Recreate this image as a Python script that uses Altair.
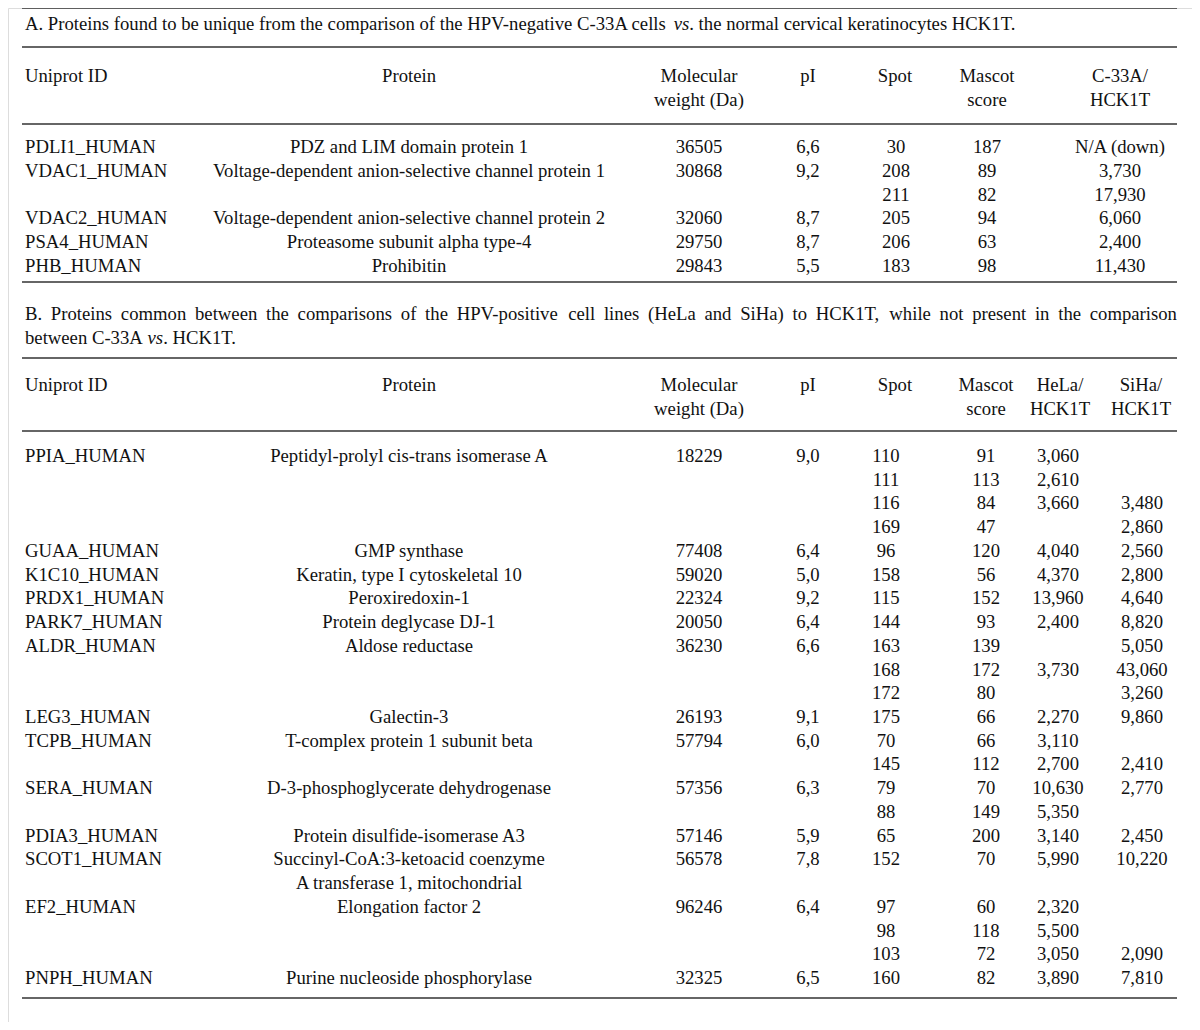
import altair as alt
import pandas as pd

# ---------------- data ----------------
caption_a = [["A. Proteins found to be unique from the comparison of the HPV-negative C-33A cells ", "vs", ". the normal cervical keratinocytes HCK1T."]]
caption_b_line1 = "B. Proteins common between the comparisons of the HPV-positive cell lines (HeLa and SiHa) to HCK1T, while not present in the comparison"
caption_b_line2 = ["between C-33A ", "vs", ". HCK1T."]

header_a = [["Uniprot ID"], ["Protein"], ["Molecular", "weight (Da)"], ["pI"], ["Spot"], ["Mascot", "score"], ["C-33A/", "HCK1T"]]
header_b = [["Uniprot ID"], ["Protein"], ["Molecular", "weight (Da)"], ["pI"], ["Spot"], ["Mascot", "score"], ["HeLa/", "HCK1T"], ["SiHa/", "HCK1T"]]

ids_a = ["PDLI1_HUMAN", "VDAC1_HUMAN", "", "VDAC2_HUMAN", "PSA4_HUMAN", "PHB_HUMAN"]
prot_a = ["PDZ and LIM domain protein 1", "Voltage-dependent anion-selective channel protein 1", "",
          "Voltage-dependent anion-selective channel protein 2", "Proteasome subunit alpha type-4", "Prohibitin"]
mw_a = ["36505", "30868", "", "32060", "29750", "29843"]
pi_a = ["6,6", "9,2", "", "8,7", "8,7", "5,5"]
spot_a = ["30", "208", "211", "205", "206", "183"]
mascot_a = ["187", "89", "82", "94", "63", "98"]
ratio_a = ["N/A (down)", "3,730", "17,930", "6,060", "2,400", "11,430"]

ids_b = ["PPIA_HUMAN", "", "", "", "GUAA_HUMAN", "K1C10_HUMAN", "PRDX1_HUMAN", "PARK7_HUMAN", "ALDR_HUMAN", "", "",
         "LEG3_HUMAN", "TCPB_HUMAN", "", "SERA_HUMAN", "", "PDIA3_HUMAN", "SCOT1_HUMAN", "", "EF2_HUMAN", "", "", "PNPH_HUMAN"]
prot_b = ["Peptidyl-prolyl cis-trans isomerase A", "", "", "", "GMP synthase", "Keratin, type I cytoskeletal 10",
          "Peroxiredoxin-1", "Protein deglycase DJ-1", "Aldose reductase", "", "", "Galectin-3",
          "T-complex protein 1 subunit beta", "", "D-3-phosphoglycerate dehydrogenase", "",
          "Protein disulfide-isomerase A3", "Succinyl-CoA:3-ketoacid coenzyme", "A transferase 1, mitochondrial",
          "Elongation factor 2", "", "", "Purine nucleoside phosphorylase"]
mw_b = ["18229", "", "", "", "77408", "59020", "22324", "20050", "36230", "", "", "26193", "57794", "", "57356", "",
        "57146", "56578", "", "96246", "", "", "32325"]
pi_b = ["9,0", "", "", "", "6,4", "5,0", "9,2", "6,4", "6,6", "", "", "9,1", "6,0", "", "6,3", "",
        "5,9", "7,8", "", "6,4", "", "", "6,5"]
spot_b = ["110", "111", "116", "169", "96", "158", "115", "144", "163", "168", "172", "175", "70", "145", "79", "88",
          "65", "152", "", "97", "98", "103", "160"]
mascot_b = ["91", "113", "84", "47", "120", "56", "152", "93", "139", "172", "80", "66", "66", "112", "70", "149",
            "200", "70", "", "60", "118", "72", "82"]
hela_b = ["3,060", "2,610", "3,660", "", "4,040", "4,370", "13,960", "2,400", "", "3,730", "", "2,270", "3,110",
          "2,700", "10,630", "5,350", "3,140", "5,990", "", "2,320", "5,500", "3,050", "3,890"]
siha_b = ["", "", "3,480", "2,860", "2,560", "2,800", "4,640", "8,820", "5,050", "43,060", "3,260", "9,860", "",
          "2,410", "2,770", "", "2,450", "10,220", "", "", "", "2,090", "7,810"]

# ---------------- layout ----------------
X_LEFT, X_RIGHT = 22, 1177
TEXT_LEFT, TEXT_RIGHT = 25, 1177
cols_a = [None, 409, 699, 808, 896, 987, 1120]
cols_a_head = [None, 409, 699, 808, 895, 987, 1120]
cols_b = [None, 409, 699, 808, 886, 986, 1058, 1142]
cols_b_head = [None, 409, 699, 808, 895, 986, 1060, 1141]
rule_ys = [8, 47, 124, 282, 358, 431, 998]

cap_a_y = [24]
cap_b_y = [314, 338]
head_a_y = [76, 100]
head_b_y = [385, 409]
row_a_y0, row_a_step = 147, 23.8
row_b_y0, row_b_step = 456, 23.73

FONT = "Liberation Serif"
FS = 18.7
CAP_FS = 18.7
COLOR = "#111111"

# Times (Liberation Serif) advance widths per 1000 em, used to place caption pieces
_W = {' ': 250, '.': 250, ',': 250, '-': 333, '(': 333, ')': 333, '/': 278, ':': 278,
      'A': 722, 'B': 667, 'C': 667, 'D': 722, 'E': 611, 'F': 556, 'G': 722, 'H': 722, 'I': 333, 'J': 389,
      'K': 722, 'L': 611, 'M': 889, 'N': 722, 'O': 722, 'P': 556, 'Q': 722, 'R': 667, 'S': 556, 'T': 611,
      'U': 722, 'V': 722, 'W': 944, 'X': 722, 'Y': 722, 'Z': 611,
      'a': 444, 'b': 500, 'c': 444, 'd': 500, 'e': 444, 'f': 333, 'g': 500, 'h': 500, 'i': 278, 'j': 278,
      'k': 500, 'l': 278, 'm': 778, 'n': 500, 'o': 500, 'p': 500, 'q': 500, 'r': 333, 's': 389, 't': 278,
      'u': 500, 'v': 500, 'w': 722, 'x': 500, 'y': 500, 'z': 444}
_WI = {'v': 444, 's': 389}


def tw(s, size, italic=False):
    tab = _WI if italic else _W
    return sum(tab.get(c, _W.get(c, 500)) for c in s) * size / 1000.0


left_rows, italic_rows, center_rows = [], [], []


def place_pieces(pieces, y):
    x = TEXT_LEFT
    for k, p in enumerate(pieces):
        it = (k % 2 == 1)
        (italic_rows if it else left_rows).append(dict(x=x, y=y, t=p.strip(), fs=CAP_FS))
        x += tw(p, CAP_FS, it)


for pieces, y in zip(caption_a, cap_a_y):
    place_pieces(pieces, y)

# justified first line of caption B
words = caption_b_line1.split(" ")
widths = [tw(w_, CAP_FS) for w_ in words]
gap = (TEXT_RIGHT - TEXT_LEFT - sum(widths)) / (len(words) - 1)
x = TEXT_LEFT
for w_, wd in zip(words, widths):
    left_rows.append(dict(x=x, y=cap_b_y[0], t=w_, fs=CAP_FS))
    x += wd + gap
place_pieces(caption_b_line2, cap_b_y[1])

for header, xs_, ys_ in [(header_a, cols_a_head, head_a_y), (header_b, cols_b_head, head_b_y)]:
    for j, lines in enumerate(header):
        for k, t in enumerate(lines):
            if j == 0:
                left_rows.append(dict(x=TEXT_LEFT, y=ys_[k], t=t, fs=FS))
            else:
                center_rows.append(dict(x=xs_[j], y=ys_[k], t=t, fs=FS))

cols_data_a = [ids_a, prot_a, mw_a, pi_a, spot_a, mascot_a, ratio_a]
cols_data_b = [ids_b, prot_b, mw_b, pi_b, spot_b, mascot_b, hela_b, siha_b]

for data, xs_, y0, step in [(cols_data_a, cols_a, row_a_y0, row_a_step), (cols_data_b, cols_b, row_b_y0, row_b_step)]:
    for j, col in enumerate(data):
        for i, t in enumerate(col):
            if not t:
                continue
            y = y0 + i * step
            if j == 0:
                left_rows.append(dict(x=TEXT_LEFT, y=y, t=t, fs=FS))
            else:
                center_rows.append(dict(x=xs_[j], y=y, t=t, fs=FS))

rules = pd.DataFrame([dict(x=X_LEFT, x2=X_RIGHT, y=y) for y in rule_ys])

W, H = 1184, 1014
xsc = alt.Scale(domain=[8, 8 + W], range=[0, W])
ysc = alt.Scale(domain=[8, 8 + H], range=[0, H])

rule_layer = alt.Chart(rules).mark_rule(color="#333333", strokeWidth=1.4).encode(
    x=alt.X("x:Q", scale=xsc, axis=None),
    x2="x2:Q",
    y=alt.Y("y:Q", scale=ysc, axis=None),
)


def text_layer(rows, align, style="normal"):
    return alt.Chart(pd.DataFrame(rows)).mark_text(
        align=align, baseline="middle", font=FONT, fontStyle=style, color=COLOR
    ).encode(
        x=alt.X("x:Q", scale=xsc, axis=None),
        y=alt.Y("y:Q", scale=ysc, axis=None),
        text="t:N",
        size=alt.Size("fs:Q", scale=None, legend=None),
    )


chart = alt.layer(
    rule_layer,
    text_layer(left_rows, "left"),
    text_layer(italic_rows, "left", "italic"),
    text_layer(center_rows, "center"),
).properties(
    width=W, height=H, padding=0, autosize=alt.AutoSizeParams(type="none")
).configure_view(stroke=None).configure(background="white")

chart.save("out.html", embed_options={"renderer": "svg", "actions": False})
